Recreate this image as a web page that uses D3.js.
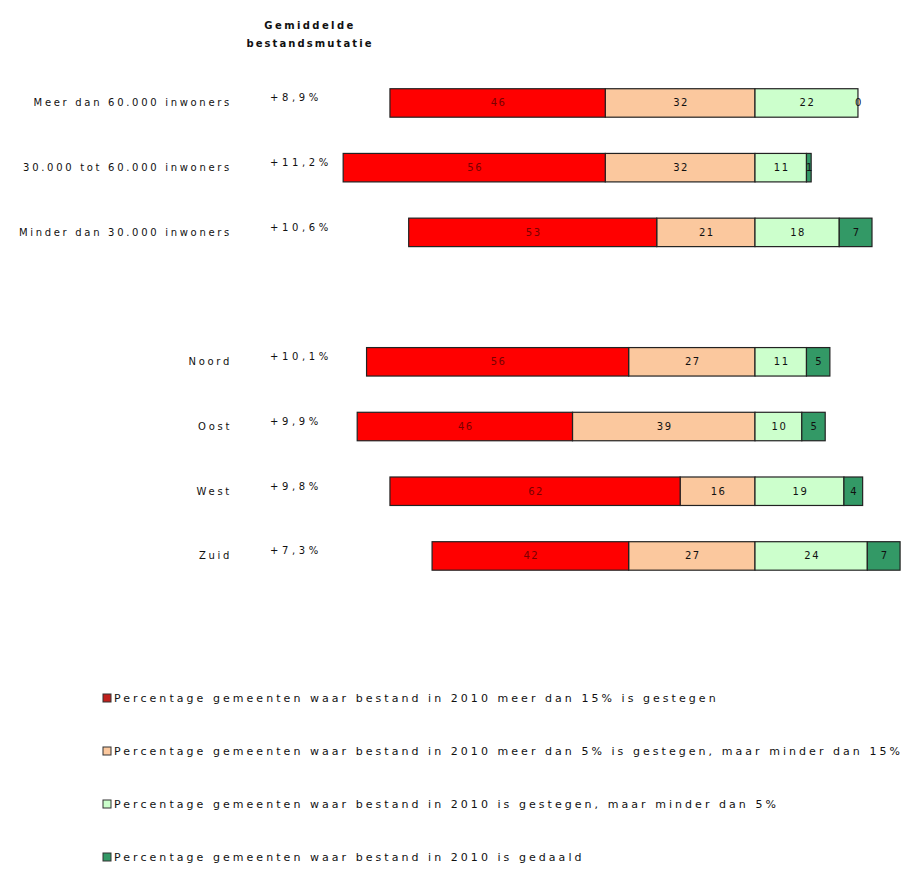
<!DOCTYPE html>
<html>
<head>
<meta charset="utf-8">
<script src="https://cdn.jsdelivr.net/npm/d3@7"></script>
<style>
  body { margin: 0; background: #fff; }
  svg text { font-family: "DejaVu Sans", sans-serif; fill: #111; }
</style>
</head>
<body>
<svg id="chart"></svg>
<script>
// rijen
const categories = ['Meer dan 60.000 inwoners', '30.000 tot 60.000 inwoners', 'Minder dan 30.000 inwoners', 'Noord', 'Oost', 'West', 'Zuid']
const mutaties = ['+8,9%', '+11,2%', '+10,6%', '+10,1%', '+9,9%', '+9,8%', '+7,3%']

// percentages gemeenten per klasse
const meerDan15 = [46, 56, 53, 56, 46, 62, 42]
const tussen5en15 = [32, 32, 21, 27, 39, 16, 27]
const minderDan5 = [22, 11, 18, 11, 10, 19, 24]
const gedaald = [0, 1, 7, 5, 5, 4, 7]

const legendLabels = [
    'Percentage gemeenten waar bestand in 2010 meer dan 15% is gestegen',
    'Percentage gemeenten waar bestand in 2010 meer dan 5% is gestegen, maar minder dan 15%',
    'Percentage gemeenten waar bestand in 2010 is gestegen, maar minder dan 5%',
    'Percentage gemeenten waar bestand in 2010 is gedaald'
]

let width = 914,
height = 869

let svg = d3.select('#chart')
.attr('width', width)
.attr('height', height)

const keys = ['tussen5en15', 'meerDan15', 'minderDan5', 'gedaald']
const colors = {
    meerDan15: '#ff0000',
    tussen5en15: '#fbc89e',
    minderDan5: '#ccffcc',
    gedaald: '#339966'
}
const legendKeys = ['meerDan15', 'tussen5en15', 'minderDan5', 'gedaald']

// tabel voor d3.stack, stijgingen > 5% naar links
let table = categories.map((c, i) => ({
    cat: c,
    meerDan15: -meerDan15[i],
    tussen5en15: -tussen5en15[i],
    minderDan5: minderDan5[i],
    gedaald: gedaald[i],
    label: { meerDan15: meerDan15[i], tussen5en15: tussen5en15[i], minderDan5: minderDan5[i], gedaald: gedaald[i] }
}))

let series = d3.stack().keys(keys).offset(d3.stackOffsetDiverging)(table)

// een waarde 0 zet d3 op de nullijn, schuif hem naar het eind van de vorige rechterserie
let gedaaldSerie = series.find(s => s.key === 'gedaald')
let lichtSerie = series.find(s => s.key === 'minderDan5')
gedaaldSerie.forEach((d, j) => {
    if (d[0] === d[1]) { d[0] = d[1] = lichtSerie[j][1] }
})

// lege rij tussen de twee groepen
let rows = categories.slice(0, 3).concat(['_gap']).concat(categories.slice(3))

let y = d3.scaleBand()
.domain(rows)
.range([70.6, 588.3])
.paddingInner(0.56)
.paddingOuter(0.28)

let x = d3.scaleLinear()
.domain([0, 100])
.range([755, 755 + 468])

// titel
svg.append('text')
.attr('x', 310).attr('y', 29)
.attr('text-anchor', 'middle')
.style('font-size', '10px').style('font-weight', 'bold').style('letter-spacing', '2.4px')
.text('Gemiddelde')
svg.append('text')
.attr('x', 310).attr('y', 47)
.attr('text-anchor', 'middle')
.style('font-size', '10px').style('font-weight', 'bold').style('letter-spacing', '2.1px')
.text('bestandsmutatie')

// categorie labels
svg.selectAll('text.cat')
.data(categories)
.enter().append('text')
.attr('class', 'cat')
.attr('x', 232)
.attr('y', d => y(d) + y.bandwidth() / 2)
.attr('dy', '0.35em')
.attr('text-anchor', 'end')
.style('font-size', '10px').style('letter-spacing', '2.7px')
.text(d => d)

// gemiddelde mutatie
svg.selectAll('text.mut')
.data(mutaties)
.enter().append('text')
.attr('class', 'mut')
.attr('x', 270)
.attr('y', (d, i) => y(categories[i]) + y.bandwidth() / 2 - 5)
.attr('dy', '0.35em')
.style('font-size', '10px').style('letter-spacing', '3.6px')
.text(d => d)

// balken
let groups = svg.selectAll('g.serie')
.data(series)
.enter().append('g')
.attr('class', 'serie')

groups.selectAll('rect')
.data(s => s.map(d => ({ d: d, key: s.key })))
.enter().append('rect')
.attr('x', o => x(Math.min(o.d[0], o.d[1])))
.attr('y', o => y(o.d.data.cat))
.attr('width', o => Math.abs(x(o.d[1]) - x(o.d[0])))
.attr('height', y.bandwidth())
.attr('fill', o => colors[o.key])
.attr('stroke', '#222')
.attr('stroke-width', 1.2)

groups.selectAll('text')
.data(s => s.map(d => ({ d: d, key: s.key })))
.enter().append('text')
.attr('x', o => (x(o.d[0]) + x(o.d[1])) / 2 + 1)
.attr('y', o => y(o.d.data.cat) + y.bandwidth() / 2)
.attr('dy', '0.35em')
.attr('text-anchor', 'middle')
.style('font-size', '10px').style('letter-spacing', '1.5px')
.style('fill', o => o.key === 'meerDan15' ? '#7a0000' : '#111')
.text(o => o.d.data.label[o.key])

// legenda
let legend = svg.selectAll('g.legend')
.data(legendKeys)
.enter().append('g')
.attr('class', 'legend')
.attr('transform', (d, i) => `translate(103, ${698 + i * 53})`)

legend.append('rect')
.attr('x', 0).attr('y', -4)
.attr('width', 8).attr('height', 8)
.attr('fill', d => d === 'meerDan15' ? '#c0201c' : colors[d])
.attr('stroke', '#333')

legend.append('text')
.attr('x', 11)
.attr('dy', '0.35em')
.style('font-size', '11px').style('letter-spacing', '3.05px')
.text((d, i) => legendLabels[i])
</script>
</body>
</html>
